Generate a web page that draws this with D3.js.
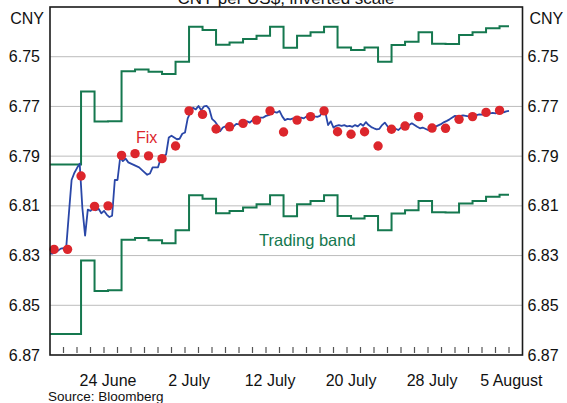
<!DOCTYPE html>
<html><head><meta charset="utf-8">
<script src="https://cdn.jsdelivr.net/npm/d3@7"></script>
<style>
html,body{margin:0;padding:0;background:#fff;}
svg{display:block;font-family:"Liberation Sans",Arial,Helvetica,sans-serif;}
</style></head>
<body><svg id="chart" width="567" height="403"></svg>
<script>
// ---- data ----
// business days, 18 June 2010 .. 5 August 2010
const days = ["18 June","21 June","22 June","23 June","24 June","25 June","28 June","29 June","30 June",
  "1 July","2 July","5 July","6 July","7 July","8 July","9 July","12 July","13 July","14 July","15 July",
  "16 July","19 July","20 July","21 July","22 July","23 July","26 July","27 July","28 July","29 July",
  "30 July","2 August","3 August","4 August","5 August"];
const tickLabels = ["24 June","2 July","12 July","20 July","28 July","5 August"];
const yTicks = [6.75,6.77,6.79,6.81,6.83,6.85,6.87];
const gridValues = [6.75,6.77,6.79,6.81,6.83,6.85];
// daily fixing (CNY per USD), 18 June .. 4 August
const fix = [6.8275,6.8275,6.7980,6.8102,6.8100,6.7897,6.7890,6.7899,6.7910,6.7859,
  6.7718,6.7732,6.7791,6.7782,6.7768,6.7755,6.7718,6.7803,6.7755,6.7741,
  6.7718,6.7802,6.7812,6.7802,6.7859,6.7792,6.7779,6.7741,6.7787,6.7788,
  6.7752,6.7741,6.7724,6.7716];
// trading band edges for each fixing
const bandUpper = [6.7934,6.7934,6.7640,6.7761,6.7760,6.7558,6.7551,6.7560,6.7570,6.7520,
  6.7379,6.7393,6.7452,6.7443,6.7429,6.7416,6.7379,6.7464,6.7416,6.7402,
  6.7379,6.7463,6.7473,6.7463,6.7520,6.7453,6.7440,6.7402,6.7448,6.7449,
  6.7413,6.7402,6.7385,6.7377];
const bandLower = [6.8616,6.8616,6.8320,6.8443,6.8440,6.8236,6.8229,6.8238,6.8250,6.8198,
  6.8057,6.8071,6.8130,6.8121,6.8107,6.8094,6.8057,6.8142,6.8094,6.8080,
  6.8057,6.8141,6.8151,6.8141,6.8198,6.8131,6.8118,6.8080,6.8126,6.8127,
  6.8091,6.8080,6.8063,6.8055];
// intraday spot rate, sampled every 0.2 business day from the open of 18 June
const spotStep = 0.2;
const spot = [6.8292,6.8292,6.8285,6.8280,6.8272,6.8270,6.8268,6.8130,6.7996,6.7968,
  6.7948,6.7930,6.8110,6.8220,6.8115,6.8120,6.8108,6.8118,6.8112,6.8130,
  6.8120,6.8135,6.8145,6.8140,6.7996,6.7996,6.7905,6.7920,6.7910,6.7925,
  6.7930,6.7935,6.7940,6.7945,6.7955,6.7965,6.7975,6.7970,6.7945,6.7945,
  6.7945,6.7910,6.7900,6.7893,6.7825,6.7818,6.7825,6.7832,6.7830,6.7810,
  6.7805,6.7748,6.7725,6.7705,6.7712,6.7698,6.7715,6.7700,6.7698,6.7710,
  6.7750,6.7760,6.7775,6.7800,6.7785,6.7780,6.7790,6.7782,6.7780,6.7770,
  6.7772,6.7765,6.7765,6.7760,6.7765,6.7755,6.7760,6.7750,6.7745,6.7745,
  6.7738,6.7735,6.7728,6.7722,6.7725,6.7718,6.7740,6.7755,6.7750,6.7752,
  6.7748,6.7755,6.7750,6.7745,6.7748,6.7740,6.7738,6.7735,6.7740,6.7742,
  6.7738,6.7720,6.7725,6.7775,6.7760,6.7785,6.7778,6.7775,6.7778,6.7775,
  6.7780,6.7778,6.7782,6.7775,6.7780,6.7770,6.7778,6.7763,6.7775,6.7783,
  6.7788,6.7792,6.7790,6.7775,6.7765,6.7780,6.7795,6.7800,6.7790,6.7795,
  6.7785,6.7780,6.7770,6.7775,6.7768,6.7775,6.7782,6.7788,6.7785,6.7790,
  6.7795,6.7790,6.7782,6.7780,6.7775,6.7770,6.7763,6.7758,6.7752,6.7745,
  6.7738,6.7740,6.7738,6.7736,6.7738,6.7740,6.7742,6.7740,6.7735,6.7732,
  6.7733,6.7730,6.7732,6.7728,6.7726,6.7728,6.7724,6.7722,6.7724,6.7720,
  6.7718];

// ---- layout ----
const W = 567, H = 403;
const m = {left: 50, right: 44.5, top: 7, bottom: 48};
const fixOffset = 0.3; // fixing published early in each business day
const FONT = 16;
const cGreen = "#15784f", cBlue = "#2a47a8", cRed = "#dc262c";

const svg = d3.select("#chart");
const x = d3.scaleLinear().domain([0, days.length]).range([m.left, W - m.right]);
const y = d3.scaleLinear().domain([6.73, 6.87]).range([m.top, H - m.bottom]);
const x0 = x.range()[0], x1 = x.range()[1], y0 = y.range()[0], y1 = y.range()[1];

// gridlines
svg.append("g").selectAll("line").data(gridValues).join("line")
  .attr("x1", x0).attr("x2", x1)
  .attr("y1", d => y(d)).attr("y2", d => y(d))
  .attr("stroke", "#bcbcbc").attr("stroke-width", 1);

// trading band (step lines)
const lastT = fix.length; // end of data
function bandPoints(arr) {
  const pts = [[0, arr[0]]];
  arr.forEach((v, i) => pts.push([i + fixOffset, v]));
  pts.push([lastT, arr[arr.length - 1]]);
  return pts;
}
const stepLine = d3.line().x(d => x(d[0])).y(d => y(d[1])).curve(d3.curveStepAfter);
[bandUpper, bandLower].forEach(arr => {
  svg.append("path").attr("d", stepLine(bandPoints(arr)))
    .attr("fill", "none").attr("stroke", cGreen).attr("stroke-width", 2)
    .attr("stroke-linejoin", "miter");
});

// spot line
const spotLine = d3.line().x((d, i) => x(i * spotStep)).y(d => y(d));
svg.append("path").attr("d", spotLine(spot))
  .attr("fill", "none").attr("stroke", cBlue).attr("stroke-width", 1.8)
  .attr("stroke-linejoin", "round");

// fix dots
svg.append("g").selectAll("circle").data(fix).join("circle")
  .attr("cx", (d, i) => x(i + fixOffset)).attr("cy", d => y(d))
  .attr("r", 4.7).attr("fill", cRed);

// x ticks (inside, upward)
svg.append("g").selectAll("line").data(d3.range(1, days.length)).join("line")
  .attr("x1", d => x(d)).attr("x2", d => x(d))
  .attr("y1", y1 - 8).attr("y2", y1 - 2)
  .attr("stroke", "#555").attr("stroke-width", 1.2);

// frame
svg.append("rect").attr("x", x0).attr("y", y0).attr("width", x1 - x0).attr("height", y1 - y0)
  .attr("fill", "none").attr("stroke", "#1a1a1a").attr("stroke-width", 1.6);

// y axes
const fmt = d3.format(".2f");
const leftAx = d3.axisLeft(y).tickValues(yTicks).tickSize(0).tickPadding(10).tickFormat(fmt);
const rightAx = d3.axisRight(y).tickValues(yTicks).tickSize(0).tickPadding(5).tickFormat(fmt);
const gl = svg.append("g").attr("transform", `translate(${x0},0)`).call(leftAx);
const gr = svg.append("g").attr("transform", `translate(${x1},0)`).call(rightAx);
[gl, gr].forEach(g => {
  g.select(".domain").remove();
  g.selectAll("text").attr("font-size", FONT).attr("fill", "#111")
    .attr("font-family", "Liberation Sans, Arial, sans-serif");
});

// x labels
const xl = svg.append("g");
tickLabels.forEach(lbl => {
  const i = days.indexOf(lbl);
  const t = xl.append("text").text(lbl)
    .attr("x", x(i + fixOffset)).attr("y", 386)
    .attr("text-anchor", "middle").attr("font-size", FONT).attr("fill", "#111");
  const bb = t.node().getBBox();
  const maxRight = W - 24;
  if (bb.x + bb.width > maxRight) t.attr("x", x(i + fixOffset) - (bb.x + bb.width - maxRight));
});

// unit labels and title
svg.append("text").text("CNY").attr("x", 44).attr("y", 23.5).attr("text-anchor", "end")
  .attr("font-size", FONT).attr("fill", "#111");
svg.append("text").text("CNY").attr("x", x1 + 7).attr("y", 23.5)
  .attr("font-size", FONT).attr("fill", "#111");
svg.append("text").text("CNY per US$, inverted scale").attr("x", 286).attr("y", 4)
  .attr("text-anchor", "middle").attr("font-size", FONT + 1).attr("fill", "#111");

// series labels
svg.append("text").text("Fix").attr("x", 136).attr("y", 143)
  .attr("font-size", FONT).attr("fill", cRed);
svg.append("text").text("Trading band").attr("x", 259).attr("y", 246)
  .attr("font-size", FONT + 0.5).attr("fill", cGreen);

// source
svg.append("text").text("Source: Bloomberg").attr("x", 48).attr("y", 401)
  .attr("font-size", 13.5).attr("fill", "#111");
</script>
</body></html>
